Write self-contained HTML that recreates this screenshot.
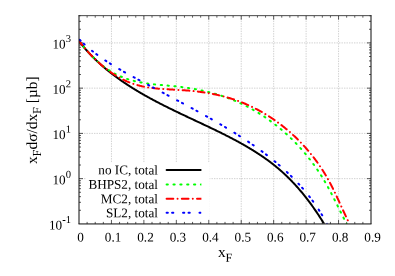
<!DOCTYPE html>
<html><head><meta charset="utf-8"><title>xF distribution</title>
<style>
html,body{margin:0;padding:0;background:#fff;}
body{width:395px;height:276px;overflow:hidden;position:relative;font-family:"Liberation Serif",serif;}
</style></head><body>
<svg width="395" height="276" viewBox="0 0 395 276" style="position:absolute;left:0;top:0;will-change:transform;text-rendering:geometricPrecision">
<g stroke="#a2a2a2" stroke-width="0.5" stroke-dasharray="1.4 1.1" fill="none">
<line x1="111.44" y1="15.65" x2="111.44" y2="223.9"/>
<line x1="143.89" y1="15.65" x2="143.89" y2="223.9"/>
<line x1="176.33" y1="15.65" x2="176.33" y2="223.9"/>
<line x1="208.78" y1="15.65" x2="208.78" y2="223.9"/>
<line x1="241.22" y1="15.65" x2="241.22" y2="223.9"/>
<line x1="273.67" y1="15.65" x2="273.67" y2="223.9"/>
<line x1="306.11" y1="15.65" x2="306.11" y2="223.9"/>
<line x1="338.56" y1="15.65" x2="338.56" y2="223.9"/>
<line x1="79.0" y1="178.65" x2="371.0" y2="178.65"/>
<line x1="79.0" y1="133.40" x2="371.0" y2="133.40"/>
<line x1="79.0" y1="88.15" x2="371.0" y2="88.15"/>
<line x1="79.0" y1="42.90" x2="371.0" y2="42.90"/>
</g>
<rect x="86" y="162.9" width="123.6" height="60.6" fill="#fff"/>
<g stroke="#000" stroke-width="0.65" fill="none">
<line x1="87.11" y1="223.9" x2="87.11" y2="221.9"/>
<line x1="87.11" y1="15.65" x2="87.11" y2="17.65"/>
<line x1="95.22" y1="223.9" x2="95.22" y2="221.9"/>
<line x1="95.22" y1="15.65" x2="95.22" y2="17.65"/>
<line x1="103.33" y1="223.9" x2="103.33" y2="221.9"/>
<line x1="103.33" y1="15.65" x2="103.33" y2="17.65"/>
<line x1="111.44" y1="223.9" x2="111.44" y2="219.9"/>
<line x1="111.44" y1="15.65" x2="111.44" y2="19.65"/>
<line x1="119.56" y1="223.9" x2="119.56" y2="221.9"/>
<line x1="119.56" y1="15.65" x2="119.56" y2="17.65"/>
<line x1="127.67" y1="223.9" x2="127.67" y2="221.9"/>
<line x1="127.67" y1="15.65" x2="127.67" y2="17.65"/>
<line x1="135.78" y1="223.9" x2="135.78" y2="221.9"/>
<line x1="135.78" y1="15.65" x2="135.78" y2="17.65"/>
<line x1="143.89" y1="223.9" x2="143.89" y2="219.9"/>
<line x1="143.89" y1="15.65" x2="143.89" y2="19.65"/>
<line x1="152.00" y1="223.9" x2="152.00" y2="221.9"/>
<line x1="152.00" y1="15.65" x2="152.00" y2="17.65"/>
<line x1="160.11" y1="223.9" x2="160.11" y2="221.9"/>
<line x1="160.11" y1="15.65" x2="160.11" y2="17.65"/>
<line x1="168.22" y1="223.9" x2="168.22" y2="221.9"/>
<line x1="168.22" y1="15.65" x2="168.22" y2="17.65"/>
<line x1="176.33" y1="223.9" x2="176.33" y2="219.9"/>
<line x1="176.33" y1="15.65" x2="176.33" y2="19.65"/>
<line x1="184.44" y1="223.9" x2="184.44" y2="221.9"/>
<line x1="184.44" y1="15.65" x2="184.44" y2="17.65"/>
<line x1="192.56" y1="223.9" x2="192.56" y2="221.9"/>
<line x1="192.56" y1="15.65" x2="192.56" y2="17.65"/>
<line x1="200.67" y1="223.9" x2="200.67" y2="221.9"/>
<line x1="200.67" y1="15.65" x2="200.67" y2="17.65"/>
<line x1="208.78" y1="223.9" x2="208.78" y2="219.9"/>
<line x1="208.78" y1="15.65" x2="208.78" y2="19.65"/>
<line x1="216.89" y1="223.9" x2="216.89" y2="221.9"/>
<line x1="216.89" y1="15.65" x2="216.89" y2="17.65"/>
<line x1="225.00" y1="223.9" x2="225.00" y2="221.9"/>
<line x1="225.00" y1="15.65" x2="225.00" y2="17.65"/>
<line x1="233.11" y1="223.9" x2="233.11" y2="221.9"/>
<line x1="233.11" y1="15.65" x2="233.11" y2="17.65"/>
<line x1="241.22" y1="223.9" x2="241.22" y2="219.9"/>
<line x1="241.22" y1="15.65" x2="241.22" y2="19.65"/>
<line x1="249.33" y1="223.9" x2="249.33" y2="221.9"/>
<line x1="249.33" y1="15.65" x2="249.33" y2="17.65"/>
<line x1="257.44" y1="223.9" x2="257.44" y2="221.9"/>
<line x1="257.44" y1="15.65" x2="257.44" y2="17.65"/>
<line x1="265.56" y1="223.9" x2="265.56" y2="221.9"/>
<line x1="265.56" y1="15.65" x2="265.56" y2="17.65"/>
<line x1="273.67" y1="223.9" x2="273.67" y2="219.9"/>
<line x1="273.67" y1="15.65" x2="273.67" y2="19.65"/>
<line x1="281.78" y1="223.9" x2="281.78" y2="221.9"/>
<line x1="281.78" y1="15.65" x2="281.78" y2="17.65"/>
<line x1="289.89" y1="223.9" x2="289.89" y2="221.9"/>
<line x1="289.89" y1="15.65" x2="289.89" y2="17.65"/>
<line x1="298.00" y1="223.9" x2="298.00" y2="221.9"/>
<line x1="298.00" y1="15.65" x2="298.00" y2="17.65"/>
<line x1="306.11" y1="223.9" x2="306.11" y2="219.9"/>
<line x1="306.11" y1="15.65" x2="306.11" y2="19.65"/>
<line x1="314.22" y1="223.9" x2="314.22" y2="221.9"/>
<line x1="314.22" y1="15.65" x2="314.22" y2="17.65"/>
<line x1="322.33" y1="223.9" x2="322.33" y2="221.9"/>
<line x1="322.33" y1="15.65" x2="322.33" y2="17.65"/>
<line x1="330.44" y1="223.9" x2="330.44" y2="221.9"/>
<line x1="330.44" y1="15.65" x2="330.44" y2="17.65"/>
<line x1="338.56" y1="223.9" x2="338.56" y2="219.9"/>
<line x1="338.56" y1="15.65" x2="338.56" y2="19.65"/>
<line x1="346.67" y1="223.9" x2="346.67" y2="221.9"/>
<line x1="346.67" y1="15.65" x2="346.67" y2="17.65"/>
<line x1="354.78" y1="223.9" x2="354.78" y2="221.9"/>
<line x1="354.78" y1="15.65" x2="354.78" y2="17.65"/>
<line x1="362.89" y1="223.9" x2="362.89" y2="221.9"/>
<line x1="362.89" y1="15.65" x2="362.89" y2="17.65"/>
<line x1="79.0" y1="210.28" x2="81.0" y2="210.28"/>
<line x1="371.0" y1="210.28" x2="369.0" y2="210.28"/>
<line x1="79.0" y1="202.31" x2="81.0" y2="202.31"/>
<line x1="371.0" y1="202.31" x2="369.0" y2="202.31"/>
<line x1="79.0" y1="196.66" x2="81.0" y2="196.66"/>
<line x1="371.0" y1="196.66" x2="369.0" y2="196.66"/>
<line x1="79.0" y1="192.27" x2="81.0" y2="192.27"/>
<line x1="371.0" y1="192.27" x2="369.0" y2="192.27"/>
<line x1="79.0" y1="188.69" x2="81.0" y2="188.69"/>
<line x1="371.0" y1="188.69" x2="369.0" y2="188.69"/>
<line x1="79.0" y1="185.66" x2="81.0" y2="185.66"/>
<line x1="371.0" y1="185.66" x2="369.0" y2="185.66"/>
<line x1="79.0" y1="183.04" x2="81.0" y2="183.04"/>
<line x1="371.0" y1="183.04" x2="369.0" y2="183.04"/>
<line x1="79.0" y1="180.72" x2="81.0" y2="180.72"/>
<line x1="371.0" y1="180.72" x2="369.0" y2="180.72"/>
<line x1="79.0" y1="178.65" x2="83.0" y2="178.65"/>
<line x1="371.0" y1="178.65" x2="367.0" y2="178.65"/>
<line x1="79.0" y1="165.03" x2="81.0" y2="165.03"/>
<line x1="371.0" y1="165.03" x2="369.0" y2="165.03"/>
<line x1="79.0" y1="157.06" x2="81.0" y2="157.06"/>
<line x1="371.0" y1="157.06" x2="369.0" y2="157.06"/>
<line x1="79.0" y1="151.41" x2="81.0" y2="151.41"/>
<line x1="371.0" y1="151.41" x2="369.0" y2="151.41"/>
<line x1="79.0" y1="147.02" x2="81.0" y2="147.02"/>
<line x1="371.0" y1="147.02" x2="369.0" y2="147.02"/>
<line x1="79.0" y1="143.44" x2="81.0" y2="143.44"/>
<line x1="371.0" y1="143.44" x2="369.0" y2="143.44"/>
<line x1="79.0" y1="140.41" x2="81.0" y2="140.41"/>
<line x1="371.0" y1="140.41" x2="369.0" y2="140.41"/>
<line x1="79.0" y1="137.79" x2="81.0" y2="137.79"/>
<line x1="371.0" y1="137.79" x2="369.0" y2="137.79"/>
<line x1="79.0" y1="135.47" x2="81.0" y2="135.47"/>
<line x1="371.0" y1="135.47" x2="369.0" y2="135.47"/>
<line x1="79.0" y1="133.40" x2="83.0" y2="133.40"/>
<line x1="371.0" y1="133.40" x2="367.0" y2="133.40"/>
<line x1="79.0" y1="119.78" x2="81.0" y2="119.78"/>
<line x1="371.0" y1="119.78" x2="369.0" y2="119.78"/>
<line x1="79.0" y1="111.81" x2="81.0" y2="111.81"/>
<line x1="371.0" y1="111.81" x2="369.0" y2="111.81"/>
<line x1="79.0" y1="106.16" x2="81.0" y2="106.16"/>
<line x1="371.0" y1="106.16" x2="369.0" y2="106.16"/>
<line x1="79.0" y1="101.77" x2="81.0" y2="101.77"/>
<line x1="371.0" y1="101.77" x2="369.0" y2="101.77"/>
<line x1="79.0" y1="98.19" x2="81.0" y2="98.19"/>
<line x1="371.0" y1="98.19" x2="369.0" y2="98.19"/>
<line x1="79.0" y1="95.16" x2="81.0" y2="95.16"/>
<line x1="371.0" y1="95.16" x2="369.0" y2="95.16"/>
<line x1="79.0" y1="92.54" x2="81.0" y2="92.54"/>
<line x1="371.0" y1="92.54" x2="369.0" y2="92.54"/>
<line x1="79.0" y1="90.22" x2="81.0" y2="90.22"/>
<line x1="371.0" y1="90.22" x2="369.0" y2="90.22"/>
<line x1="79.0" y1="88.15" x2="83.0" y2="88.15"/>
<line x1="371.0" y1="88.15" x2="367.0" y2="88.15"/>
<line x1="79.0" y1="74.53" x2="81.0" y2="74.53"/>
<line x1="371.0" y1="74.53" x2="369.0" y2="74.53"/>
<line x1="79.0" y1="66.56" x2="81.0" y2="66.56"/>
<line x1="371.0" y1="66.56" x2="369.0" y2="66.56"/>
<line x1="79.0" y1="60.91" x2="81.0" y2="60.91"/>
<line x1="371.0" y1="60.91" x2="369.0" y2="60.91"/>
<line x1="79.0" y1="56.52" x2="81.0" y2="56.52"/>
<line x1="371.0" y1="56.52" x2="369.0" y2="56.52"/>
<line x1="79.0" y1="52.94" x2="81.0" y2="52.94"/>
<line x1="371.0" y1="52.94" x2="369.0" y2="52.94"/>
<line x1="79.0" y1="49.91" x2="81.0" y2="49.91"/>
<line x1="371.0" y1="49.91" x2="369.0" y2="49.91"/>
<line x1="79.0" y1="47.29" x2="81.0" y2="47.29"/>
<line x1="371.0" y1="47.29" x2="369.0" y2="47.29"/>
<line x1="79.0" y1="44.97" x2="81.0" y2="44.97"/>
<line x1="371.0" y1="44.97" x2="369.0" y2="44.97"/>
<line x1="79.0" y1="42.90" x2="83.0" y2="42.90"/>
<line x1="371.0" y1="42.90" x2="367.0" y2="42.90"/>
<line x1="79.0" y1="29.28" x2="81.0" y2="29.28"/>
<line x1="371.0" y1="29.28" x2="369.0" y2="29.28"/>
<line x1="79.0" y1="21.31" x2="81.0" y2="21.31"/>
<line x1="371.0" y1="21.31" x2="369.0" y2="21.31"/>
<line x1="79.0" y1="15.66" x2="81.0" y2="15.66"/>
<line x1="371.0" y1="15.66" x2="369.0" y2="15.66"/>
</g>
<g fill="none" stroke-width="2" stroke-linejoin="round" stroke-linecap="round">
<clipPath id="pc"><rect x="79.0" y="15.65" width="292.0" height="207.95"/></clipPath><g clip-path="url(#pc)">
<path d="M79.00,41.04 L79.38,41.54 L79.76,42.04 L80.14,42.54 L80.53,43.04 L80.92,43.53 L81.31,44.03 L81.70,44.52 L82.09,45.01 L82.49,45.50 L82.88,45.98 L83.28,46.47 L83.68,46.95 L84.09,47.43 L84.49,47.91 L84.90,48.39 L85.31,48.86 L85.72,49.34 L86.13,49.81 L86.54,50.28 L86.96,50.75 L87.38,51.22 L87.80,51.68 L88.22,52.15 L88.64,52.61 L89.07,53.07 L89.49,53.53 L89.92,53.98 L90.35,54.44 L90.79,54.89 L91.22,55.34 L91.66,55.80 L92.09,56.24 L92.53,56.69 L92.97,57.14 L93.41,57.58 L93.86,58.02 L94.30,58.46 L94.75,58.90 L95.20,59.34 L95.65,59.77 L96.10,60.21 L96.55,60.64 L97.01,61.07 L97.47,61.50 L97.92,61.93 L98.38,62.36 L98.84,62.78 L99.31,63.20 L99.77,63.62 L100.23,64.04 L100.70,64.46 L101.17,64.88 L101.64,65.30 L102.11,65.71 L102.58,66.12 L103.05,66.53 L103.53,66.94 L104.00,67.35 L104.48,67.75 L104.96,68.16 L105.44,68.56 L105.92,68.96 L106.40,69.36 L106.89,69.76 L107.37,70.16 L107.86,70.56 L108.35,70.95 L108.83,71.34 L109.32,71.73 L109.81,72.12 L110.31,72.51 L110.80,72.90 L111.29,73.28 L111.79,73.67 L112.29,74.05 L112.78,74.43 L113.28,74.81 L113.78,75.19 L114.28,75.57 L114.78,75.94 L115.29,76.32 L115.79,76.69 L116.29,77.06 L116.80,77.43 L117.31,77.80 L117.81,78.17 L118.32,78.54 L118.83,78.90 L119.34,79.26 L119.85,79.63 L120.37,79.99 L120.88,80.35 L121.39,80.70 L121.91,81.06 L122.42,81.42 L122.94,81.77 L123.46,82.12 L123.97,82.47 L124.49,82.82 L125.01,83.17 L125.53,83.52 L126.05,83.87 L126.57,84.21 L127.09,84.55 L127.62,84.90 L128.14,85.24 L128.67,85.58 L129.19,85.92 L129.72,86.26 L130.24,86.59 L130.77,86.93 L131.30,87.26 L131.83,87.59 L132.35,87.93 L132.88,88.26 L133.41,88.59 L133.95,88.91 L134.48,89.24 L135.01,89.57 L135.54,89.89 L136.08,90.22 L136.61,90.54 L137.15,90.86 L137.68,91.18 L138.22,91.50 L138.75,91.82 L139.29,92.14 L139.83,92.46 L140.37,92.77 L140.91,93.09 L141.45,93.40 L141.99,93.71 L142.53,94.02 L143.07,94.34 L143.61,94.65 L144.15,94.95 L144.69,95.26 L145.24,95.57 L145.78,95.88 L146.33,96.18 L146.87,96.49 L147.42,96.79 L147.96,97.09 L148.51,97.39 L149.06,97.70 L149.60,98.00 L150.15,98.30 L150.70,98.59 L151.25,98.89 L151.80,99.19 L152.35,99.49 L152.90,99.78 L153.45,100.08 L154.00,100.37 L154.55,100.66 L155.11,100.96 L155.66,101.25 L156.21,101.54 L156.77,101.83 L157.32,102.12 L157.87,102.41 L158.43,102.70 L158.98,102.99 L159.54,103.27 L160.10,103.56 L160.65,103.84 L161.21,104.13 L161.77,104.41 L162.32,104.70 L162.88,104.98 L163.44,105.27 L164.00,105.55 L164.56,105.83 L165.12,106.11 L165.68,106.39 L166.24,106.67 L166.80,106.95 L167.36,107.23 L167.92,107.51 L168.48,107.79 L169.04,108.07 L169.60,108.34 L170.17,108.62 L170.73,108.90 L171.29,109.17 L171.86,109.45 L172.42,109.73 L172.98,110.00 L173.55,110.27 L174.11,110.55 L174.67,110.82 L175.24,111.10 L175.80,111.37 L176.37,111.64 L176.93,111.91 L177.50,112.19 L178.07,112.46 L178.63,112.73 L179.20,113.00 L179.77,113.27 L180.33,113.54 L180.90,113.81 L181.47,114.08 L182.03,114.35 L182.60,114.62 L183.17,114.89 L183.74,115.16 L184.30,115.43 L184.87,115.70 L185.44,115.97 L186.01,116.24 L186.58,116.51 L187.15,116.77 L187.72,117.04 L188.28,117.31 L188.85,117.58 L189.42,117.85 L189.99,118.11 L190.56,118.38 L191.13,118.65 L191.70,118.92 L192.27,119.18 L192.84,119.45 L193.41,119.72 L193.98,119.99 L194.55,120.25 L195.12,120.52 L195.69,120.79 L196.26,121.06 L196.83,121.32 L197.40,121.59 L197.97,121.86 L198.54,122.13 L199.11,122.39 L199.68,122.66 L200.25,122.93 L200.82,123.20 L201.39,123.47 L201.96,123.73 L202.54,124.00 L203.11,124.27 L203.68,124.54 L204.25,124.81 L204.82,125.08 L205.39,125.35 L205.96,125.62 L206.53,125.89 L207.10,126.16 L207.67,126.43 L208.24,126.70 L208.81,126.97 L209.38,127.24 L209.94,127.51 L210.51,127.78 L211.08,128.05 L211.65,128.33 L212.22,128.60 L212.79,128.87 L213.36,129.14 L213.93,129.42 L214.49,129.69 L215.06,129.97 L215.63,130.24 L216.20,130.52 L216.76,130.79 L217.33,131.07 L217.90,131.34 L218.46,131.62 L219.03,131.90 L219.59,132.18 L220.16,132.45 L220.72,132.73 L221.29,133.01 L221.85,133.29 L222.42,133.57 L222.98,133.85 L223.54,134.13 L224.11,134.42 L224.67,134.70 L225.23,134.98 L225.79,135.27 L226.35,135.55 L226.92,135.84 L227.48,136.12 L228.04,136.41 L228.60,136.69 L229.15,136.98 L229.71,137.27 L230.27,137.56 L230.83,137.85 L231.39,138.14 L231.94,138.43 L232.50,138.72 L233.06,139.02 L233.61,139.31 L234.17,139.60 L234.72,139.90 L235.27,140.19 L235.83,140.49 L236.38,140.79 L236.93,141.09 L237.48,141.38 L238.03,141.68 L238.58,141.99 L239.13,142.29 L239.68,142.59 L240.23,142.89 L240.78,143.20 L241.32,143.50 L241.87,143.81 L242.42,144.12 L242.96,144.42 L243.51,144.73 L244.05,145.04 L244.59,145.35 L245.13,145.66 L245.68,145.98 L246.22,146.29 L246.76,146.61 L247.29,146.92 L247.83,147.24 L248.37,147.56 L248.91,147.88 L249.44,148.20 L249.98,148.52 L250.51,148.84 L251.05,149.16 L251.58,149.49 L252.11,149.81 L252.64,150.14 L253.17,150.47 L253.70,150.80 L254.23,151.13 L254.76,151.46 L255.29,151.79 L255.81,152.13 L256.34,152.46 L256.86,152.80 L257.38,153.14 L257.91,153.48 L258.43,153.82 L258.95,154.16 L259.47,154.50 L259.98,154.85 L260.50,155.19 L261.02,155.54 L261.53,155.89 L262.05,156.24 L262.56,156.59 L263.07,156.94 L263.58,157.29 L264.09,157.65 L264.60,158.01 L265.11,158.36 L265.62,158.72 L266.12,159.08 L266.63,159.45 L267.13,159.81 L267.64,160.18 L268.14,160.54 L268.64,160.91 L269.14,161.28 L269.63,161.65 L270.13,162.03 L270.63,162.40 L271.12,162.78 L271.62,163.15 L272.11,163.53 L272.60,163.91 L273.09,164.30 L273.58,164.68 L274.06,165.06 L274.55,165.45 L275.03,165.84 L275.52,166.23 L276.00,166.62 L276.48,167.02 L276.96,167.41 L277.44,167.81 L277.92,168.21 L278.39,168.61 L278.87,169.01 L279.34,169.42 L279.81,169.82 L280.28,170.23 L280.75,170.64 L281.22,171.05 L281.69,171.46 L282.15,171.88 L282.61,172.30 L283.08,172.71 L283.54,173.13 L284.00,173.56 L284.45,173.98 L284.91,174.41 L285.37,174.83 L285.82,175.26 L286.27,175.69 L286.72,176.13 L287.17,176.56 L287.62,177.00 L288.07,177.43 L288.51,177.87 L288.96,178.31 L289.40,178.76 L289.84,179.20 L290.28,179.64 L290.72,180.09 L291.16,180.54 L291.60,180.99 L292.03,181.44 L292.46,181.90 L292.90,182.35 L293.33,182.81 L293.76,183.27 L294.18,183.72 L294.61,184.19 L295.04,184.65 L295.46,185.11 L295.88,185.58 L296.30,186.04 L296.72,186.51 L297.14,186.98 L297.56,187.45 L297.97,187.92 L298.39,188.40 L298.80,188.87 L299.21,189.35 L299.63,189.82 L300.04,190.30 L300.44,190.78 L300.85,191.26 L301.26,191.75 L301.66,192.23 L302.06,192.72 L302.46,193.20 L302.86,193.69 L303.26,194.18 L303.66,194.67 L304.06,195.16 L304.45,195.65 L304.85,196.14 L305.24,196.64 L305.63,197.13 L306.02,197.63 L306.41,198.13 L306.80,198.62 L307.18,199.12 L307.57,199.62 L307.95,200.13 L308.33,200.63 L308.71,201.13 L309.09,201.64 L309.47,202.14 L309.85,202.65 L310.22,203.15 L310.60,203.66 L310.97,204.17 L311.34,204.68 L311.72,205.19 L312.09,205.71 L312.45,206.22 L312.82,206.73 L313.19,207.25 L313.55,207.76 L313.91,208.28 L314.28,208.79 L314.64,209.31 L315.00,209.83 L315.36,210.35 L315.71,210.87 L316.07,211.39 L316.42,211.91 L316.78,212.43 L317.13,212.96 L317.48,213.48 L317.83,214.00 L318.18,214.53 L318.53,215.05 L318.87,215.58 L319.22,216.11 L319.56,216.63 L319.90,217.16 L320.25,217.69 L320.59,218.22 L320.93,218.75 L321.26,219.28 L321.60,219.81 L321.94,220.34 L322.27,220.87 L322.60,221.40 L322.93,221.93 L323.27,222.47 L323.59,223.00 L323.92,223.53 L324.15,223.90" stroke="#000"/>
<path d="M79.04,40.97 L79.46,41.52 L79.88,42.08 L80.30,42.63 L80.72,43.17 L81.15,43.72 L81.58,44.27 L82.01,44.81 L82.45,45.36 L82.89,45.90 L83.33,46.44 L83.77,46.98 L84.22,47.52 L84.66,48.06 L85.11,48.59 L85.57,49.12 L86.02,49.65 L86.48,50.18 L86.94,50.71 L87.41,51.23 L87.87,51.75 L88.34,52.27 L88.81,52.79 L89.29,53.31 L89.76,53.82 L90.24,54.33 L90.72,54.84 L91.21,55.34 L91.69,55.84 L92.18,56.34 L92.67,56.84 L93.17,57.33 L93.67,57.82 L94.17,58.31 L94.67,58.79 L95.17,59.27 L95.68,59.75 L96.19,60.22 L96.71,60.70 L97.22,61.16 L97.74,61.63 L98.26,62.08 L98.78,62.54 L99.31,62.99 L99.84,63.44 L100.37,63.88 L100.90,64.32 L101.44,64.76 L101.98,65.19 L102.52,65.62 L103.07,66.04 L103.61,66.46 L104.16,66.88 L104.71,67.29 L105.27,67.69 L105.83,68.09 L106.39,68.49 L106.95,68.88 L107.52,69.26 L108.08,69.64 L108.65,70.02 L109.23,70.39 L109.80,70.76 L110.38,71.12 L110.96,71.47 L111.55,71.82 L112.13,72.17 L112.72,72.51 L113.31,72.84 L113.91,73.17 L114.51,73.49 L115.11,73.81 L115.71,74.12 L116.31,74.43 L116.92,74.73 L117.53,75.03 L118.14,75.32 L118.75,75.60 L119.37,75.89 L119.99,76.16 L120.61,76.43 L121.23,76.70 L121.85,76.96 L122.48,77.22 L123.11,77.47 L123.74,77.71 L124.37,77.95 L125.01,78.19 L125.64,78.42 L126.28,78.65 L126.92,78.87 L127.57,79.09 L128.21,79.30 L128.86,79.51 L129.50,79.71 L130.15,79.91 L130.80,80.10 L131.46,80.29 L132.11,80.47 L132.77,80.65 L133.43,80.82 L134.09,80.99 L134.75,81.16 L135.41,81.32 L136.07,81.48 L136.74,81.63 L137.41,81.78 L138.08,81.92 L138.75,82.06 L139.42,82.20 L140.09,82.33 L140.76,82.45 L141.44,82.58 L142.11,82.70 L142.79,82.82 L143.47,82.93 L144.15,83.04 L144.83,83.15 L145.51,83.25 L146.19,83.35 L146.88,83.45 L147.56,83.54 L148.25,83.64 L148.93,83.73 L149.62,83.82 L150.31,83.90 L151.00,83.98 L151.69,84.06 L152.38,84.14 L153.07,84.22 L153.76,84.30 L154.45,84.37 L155.14,84.44 L155.84,84.51 L156.53,84.58 L157.22,84.65 L157.92,84.72 L158.62,84.78 L159.31,84.85 L160.01,84.91 L160.70,84.98 L161.40,85.04 L162.10,85.10 L162.80,85.16 L163.49,85.22 L164.19,85.28 L164.89,85.34 L165.59,85.41 L166.29,85.47 L166.98,85.53 L167.68,85.59 L168.38,85.65 L169.08,85.71 L169.78,85.78 L170.48,85.84 L171.17,85.91 L171.87,85.97 L172.57,86.04 L173.27,86.11 L173.96,86.17 L174.66,86.24 L175.36,86.32 L176.05,86.39 L176.75,86.47 L177.45,86.54 L178.14,86.62 L178.84,86.70 L179.53,86.78 L180.22,86.87 L180.92,86.95 L181.61,87.04 L182.30,87.13 L183.00,87.22 L183.69,87.31 L184.38,87.41 L185.07,87.50 L185.76,87.60 L186.45,87.70 L187.14,87.81 L187.83,87.91 L188.52,88.02 L189.21,88.12 L189.89,88.23 L190.58,88.35 L191.27,88.46 L191.95,88.58 L192.64,88.69 L193.32,88.81 L194.01,88.93 L194.69,89.06 L195.37,89.18 L196.06,89.31 L196.74,89.44 L197.42,89.57 L198.10,89.71 L198.78,89.84 L199.46,89.98 L200.14,90.12 L200.82,90.26 L201.49,90.41 L202.17,90.55 L202.85,90.70 L203.52,90.85 L204.20,91.01 L204.87,91.16 L205.55,91.32 L206.22,91.48 L206.89,91.64 L207.56,91.80 L208.23,91.97 L208.90,92.14 L209.57,92.31 L210.24,92.48 L210.91,92.66 L211.57,92.83 L212.24,93.01 L212.90,93.19 L213.57,93.38 L214.23,93.57 L214.89,93.75 L215.56,93.95 L216.22,94.14 L216.88,94.34 L217.54,94.53 L218.20,94.73 L218.85,94.94 L219.51,95.14 L220.17,95.35 L220.82,95.56 L221.48,95.77 L222.13,95.99 L222.78,96.21 L223.43,96.43 L224.09,96.65 L224.74,96.87 L225.38,97.10 L226.03,97.33 L226.68,97.56 L227.33,97.80 L227.97,98.04 L228.61,98.28 L229.26,98.52 L229.90,98.77 L230.54,99.01 L231.18,99.26 L231.82,99.52 L232.46,99.77 L233.10,100.03 L233.73,100.29 L234.37,100.56 L235.00,100.82 L235.63,101.09 L236.27,101.36 L236.90,101.64 L237.53,101.92 L238.16,102.19 L238.78,102.48 L239.41,102.76 L240.03,103.05 L240.66,103.34 L241.28,103.63 L241.90,103.93 L242.53,104.22 L243.15,104.52 L243.76,104.83 L244.38,105.13 L245.00,105.44 L245.61,105.75 L246.23,106.06 L246.84,106.38 L247.45,106.70 L248.06,107.02 L248.67,107.34 L249.28,107.67 L249.89,107.99 L250.49,108.32 L251.10,108.66 L251.70,108.99 L252.30,109.33 L252.90,109.67 L253.50,110.01 L254.10,110.35 L254.70,110.70 L255.30,111.05 L255.89,111.40 L256.48,111.76 L257.08,112.11 L257.67,112.47 L258.26,112.83 L258.85,113.19 L259.43,113.56 L260.02,113.93 L260.60,114.30 L261.19,114.67 L261.77,115.05 L262.35,115.42 L262.93,115.80 L263.50,116.18 L264.08,116.57 L264.66,116.95 L265.23,117.34 L265.80,117.73 L266.37,118.12 L266.94,118.52 L267.51,118.91 L268.08,119.31 L268.64,119.71 L269.21,120.12 L269.77,120.52 L270.33,120.93 L270.89,121.34 L271.45,121.75 L272.00,122.17 L272.56,122.58 L273.11,123.00 L273.67,123.42 L274.22,123.84 L274.77,124.27 L275.31,124.69 L275.86,125.12 L276.41,125.55 L276.95,125.98 L277.49,126.42 L278.03,126.86 L278.57,127.29 L279.11,127.73 L279.64,128.18 L280.18,128.62 L280.71,129.07 L281.24,129.52 L281.77,129.97 L282.30,130.42 L282.83,130.87 L283.35,131.33 L283.88,131.79 L284.40,132.25 L284.92,132.71 L285.44,133.17 L285.95,133.64 L286.47,134.10 L286.98,134.57 L287.49,135.04 L288.00,135.52 L288.51,135.99 L289.02,136.47 L289.53,136.94 L290.03,137.42 L290.53,137.91 L291.03,138.39 L291.53,138.87 L292.03,139.36 L292.52,139.85 L293.02,140.34 L293.51,140.83 L294.00,141.33 L294.49,141.82 L294.98,142.32 L295.46,142.82 L295.95,143.32 L296.43,143.82 L296.91,144.33 L297.38,144.83 L297.86,145.34 L298.34,145.85 L298.81,146.36 L299.28,146.87 L299.75,147.39 L300.22,147.90 L300.68,148.42 L301.15,148.94 L301.61,149.46 L302.07,149.98 L302.53,150.50 L302.98,151.03 L303.44,151.55 L303.89,152.08 L304.34,152.61 L304.79,153.14 L305.24,153.67 L305.68,154.21 L306.13,154.74 L306.57,155.28 L307.01,155.82 L307.45,156.36 L307.88,156.90 L308.32,157.44 L308.75,157.99 L309.18,158.53 L309.61,159.08 L310.03,159.63 L310.46,160.18 L310.88,160.73 L311.30,161.28 L311.72,161.84 L312.14,162.39 L312.55,162.95 L312.96,163.51 L313.37,164.07 L313.78,164.63 L314.19,165.19 L314.59,165.75 L315.00,166.32 L315.40,166.88 L315.80,167.45 L316.19,168.02 L316.59,168.59 L316.98,169.16 L317.37,169.73 L317.76,170.30 L318.14,170.88 L318.53,171.45 L318.91,172.03 L319.29,172.61 L319.67,173.19 L320.04,173.77 L320.42,174.35 L320.79,174.93 L321.16,175.52 L321.53,176.10 L321.89,176.69 L322.25,177.27 L322.62,177.86 L322.97,178.45 L323.33,179.04 L323.68,179.64 L324.04,180.23 L324.39,180.82 L324.74,181.42 L325.08,182.01 L325.43,182.61 L325.77,183.21 L326.11,183.81 L326.45,184.41 L326.79,185.01 L327.12,185.61 L327.46,186.21 L327.79,186.81 L328.12,187.42 L328.45,188.02 L328.78,188.63 L329.10,189.23 L329.43,189.84 L329.75,190.45 L330.08,191.06 L330.40,191.66 L330.72,192.27 L331.04,192.88 L331.35,193.50 L331.67,194.11 L331.99,194.72 L332.30,195.33 L332.62,195.94 L332.93,196.56 L333.24,197.17 L333.56,197.79 L333.87,198.40 L334.18,199.02 L334.49,199.63 L334.80,200.25 L335.11,200.86 L335.42,201.48 L335.73,202.10 L336.03,202.71 L336.34,203.33 L336.65,203.95 L336.96,204.57 L337.26,205.19 L337.57,205.81 L337.88,206.42 L338.18,207.04 L338.49,207.66 L338.80,208.28 L339.11,208.90 L339.41,209.52 L339.72,210.14 L340.03,210.76 L340.34,211.38 L340.65,211.99 L340.95,212.61 L341.26,213.23 L341.57,213.85 L341.89,214.47 L342.20,215.09 L342.51,215.71 L342.82,216.33 L343.13,216.94 L343.45,217.56 L343.76,218.18 L344.08,218.80 L344.40,219.41 L344.71,220.03 L345.03,220.65 L345.35,221.26 L345.67,221.88 L346.00,222.50 L346.32,223.11 L346.64,223.73 L346.74,223.90" stroke="#00ff00" stroke-dasharray="1.24 5.61" stroke-dashoffset="-0.6"/>
<path d="M79.04,41.01 L79.46,41.56 L79.89,42.11 L80.32,42.66 L80.75,43.21 L81.18,43.76 L81.62,44.31 L82.06,44.85 L82.50,45.40 L82.95,45.94 L83.39,46.48 L83.84,47.02 L84.29,47.56 L84.75,48.10 L85.20,48.64 L85.66,49.17 L86.12,49.71 L86.59,50.24 L87.06,50.77 L87.52,51.30 L88.00,51.82 L88.47,52.35 L88.95,52.87 L89.43,53.39 L89.91,53.91 L90.39,54.43 L90.88,54.94 L91.37,55.45 L91.86,55.96 L92.35,56.47 L92.85,56.98 L93.34,57.48 L93.84,57.98 L94.35,58.48 L94.85,58.97 L95.36,59.47 L95.87,59.96 L96.38,60.45 L96.90,60.93 L97.41,61.42 L97.93,61.90 L98.45,62.37 L98.98,62.85 L99.51,63.32 L100.03,63.79 L100.56,64.25 L101.10,64.72 L101.63,65.18 L102.17,65.63 L102.71,66.09 L103.25,66.53 L103.80,66.98 L104.34,67.42 L104.89,67.86 L105.44,68.30 L106.00,68.73 L106.55,69.16 L107.11,69.59 L107.67,70.01 L108.23,70.43 L108.80,70.84 L109.36,71.25 L109.93,71.66 L110.50,72.06 L111.08,72.46 L111.65,72.86 L112.23,73.25 L112.81,73.64 L113.39,74.02 L113.98,74.40 L114.56,74.77 L115.15,75.14 L115.74,75.51 L116.33,75.87 L116.93,76.23 L117.52,76.58 L118.12,76.93 L118.72,77.27 L119.33,77.61 L119.93,77.94 L120.54,78.27 L121.15,78.60 L121.76,78.92 L122.37,79.23 L122.98,79.54 L123.60,79.85 L124.22,80.15 L124.84,80.45 L125.46,80.74 L126.09,81.02 L126.72,81.30 L127.35,81.58 L127.98,81.84 L128.61,82.11 L129.24,82.37 L129.88,82.62 L130.52,82.87 L131.16,83.11 L131.80,83.35 L132.45,83.58 L133.10,83.80 L133.74,84.02 L134.39,84.24 L135.05,84.44 L135.70,84.65 L136.36,84.84 L137.01,85.03 L137.67,85.22 L138.34,85.40 L139.00,85.57 L139.66,85.74 L140.33,85.90 L141.00,86.06 L141.67,86.21 L142.34,86.36 L143.01,86.50 L143.69,86.64 L144.36,86.77 L145.04,86.90 L145.72,87.03 L146.40,87.15 L147.08,87.26 L147.77,87.37 L148.45,87.48 L149.14,87.59 L149.83,87.69 L150.51,87.78 L151.20,87.88 L151.89,87.97 L152.59,88.05 L153.28,88.13 L153.97,88.22 L154.67,88.29 L155.36,88.37 L156.06,88.44 L156.76,88.51 L157.46,88.57 L158.16,88.64 L158.86,88.70 L159.56,88.76 L160.26,88.81 L160.97,88.87 L161.67,88.92 L162.37,88.97 L163.08,89.02 L163.79,89.07 L164.49,89.12 L165.20,89.16 L165.91,89.21 L166.61,89.25 L167.32,89.29 L168.03,89.33 L168.74,89.37 L169.45,89.41 L170.16,89.45 L170.87,89.49 L171.58,89.53 L172.29,89.57 L173.00,89.61 L173.71,89.64 L174.43,89.68 L175.14,89.72 L175.85,89.76 L176.56,89.80 L177.27,89.84 L177.98,89.88 L178.70,89.92 L179.41,89.96 L180.12,90.00 L180.83,90.04 L181.54,90.09 L182.25,90.13 L182.96,90.18 L183.67,90.23 L184.38,90.28 L185.09,90.33 L185.80,90.39 L186.51,90.44 L187.22,90.50 L187.93,90.56 L188.64,90.62 L189.35,90.68 L190.05,90.75 L190.76,90.81 L191.47,90.88 L192.17,90.95 L192.88,91.02 L193.59,91.10 L194.29,91.17 L195.00,91.25 L195.70,91.33 L196.40,91.41 L197.11,91.50 L197.81,91.58 L198.51,91.67 L199.21,91.76 L199.91,91.85 L200.61,91.95 L201.31,92.04 L202.01,92.14 L202.71,92.24 L203.41,92.35 L204.11,92.45 L204.81,92.56 L205.50,92.67 L206.20,92.78 L206.89,92.89 L207.59,93.01 L208.28,93.13 L208.97,93.25 L209.67,93.37 L210.36,93.50 L211.05,93.63 L211.74,93.76 L212.43,93.89 L213.12,94.03 L213.81,94.16 L214.49,94.30 L215.18,94.45 L215.87,94.59 L216.55,94.74 L217.24,94.89 L217.92,95.04 L218.60,95.20 L219.29,95.36 L219.97,95.52 L220.65,95.68 L221.33,95.85 L222.01,96.02 L222.68,96.19 L223.36,96.36 L224.04,96.54 L224.71,96.72 L225.39,96.90 L226.06,97.09 L226.73,97.28 L227.40,97.47 L228.07,97.66 L228.74,97.86 L229.41,98.06 L230.08,98.26 L230.75,98.47 L231.41,98.67 L232.08,98.89 L232.74,99.10 L233.40,99.32 L234.06,99.54 L234.72,99.76 L235.38,99.99 L236.04,100.22 L236.70,100.45 L237.35,100.69 L238.01,100.92 L238.66,101.17 L239.32,101.41 L239.97,101.66 L240.62,101.91 L241.27,102.16 L241.92,102.42 L242.56,102.68 L243.21,102.94 L243.85,103.21 L244.50,103.47 L245.14,103.75 L245.78,104.02 L246.42,104.30 L247.06,104.58 L247.70,104.86 L248.33,105.14 L248.97,105.43 L249.60,105.72 L250.23,106.02 L250.87,106.31 L251.50,106.61 L252.12,106.92 L252.75,107.22 L253.38,107.53 L254.00,107.84 L254.63,108.15 L255.25,108.47 L255.87,108.79 L256.49,109.11 L257.11,109.44 L257.72,109.76 L258.34,110.09 L258.95,110.42 L259.57,110.76 L260.18,111.10 L260.79,111.44 L261.40,111.78 L262.01,112.13 L262.61,112.48 L263.22,112.83 L263.82,113.18 L264.42,113.54 L265.02,113.90 L265.62,114.26 L266.22,114.62 L266.81,114.99 L267.41,115.36 L268.00,115.73 L268.59,116.10 L269.18,116.48 L269.77,116.86 L270.36,117.24 L270.94,117.62 L271.53,118.01 L272.11,118.40 L272.69,118.79 L273.27,119.18 L273.85,119.58 L274.42,119.98 L275.00,120.38 L275.57,120.78 L276.14,121.19 L276.71,121.60 L277.28,122.01 L277.84,122.42 L278.41,122.84 L278.97,123.26 L279.53,123.68 L280.09,124.10 L280.65,124.52 L281.21,124.95 L281.76,125.38 L282.32,125.81 L282.87,126.25 L283.42,126.68 L283.97,127.12 L284.51,127.56 L285.06,128.00 L285.60,128.45 L286.14,128.90 L286.68,129.35 L287.22,129.80 L287.76,130.25 L288.29,130.71 L288.82,131.17 L289.35,131.63 L289.88,132.09 L290.41,132.56 L290.94,133.02 L291.46,133.49 L291.98,133.96 L292.50,134.44 L293.02,134.91 L293.53,135.39 L294.05,135.87 L294.56,136.35 L295.07,136.83 L295.58,137.32 L296.09,137.81 L296.59,138.30 L297.10,138.79 L297.60,139.28 L298.10,139.78 L298.59,140.28 L299.09,140.78 L299.58,141.28 L300.07,141.78 L300.56,142.29 L301.05,142.79 L301.54,143.30 L302.02,143.81 L302.50,144.33 L302.98,144.84 L303.46,145.36 L303.93,145.88 L304.41,146.40 L304.88,146.92 L305.35,147.45 L305.82,147.97 L306.28,148.50 L306.74,149.03 L307.20,149.56 L307.66,150.09 L308.12,150.63 L308.58,151.17 L309.03,151.71 L309.48,152.25 L309.93,152.79 L310.37,153.33 L310.82,153.88 L311.26,154.43 L311.70,154.97 L312.14,155.52 L312.58,156.08 L313.01,156.63 L313.44,157.19 L313.87,157.74 L314.30,158.30 L314.72,158.86 L315.14,159.43 L315.56,159.99 L315.98,160.56 L316.40,161.12 L316.81,161.69 L317.22,162.26 L317.63,162.83 L318.04,163.41 L318.44,163.98 L318.85,164.56 L319.25,165.14 L319.64,165.72 L320.04,166.30 L320.43,166.88 L320.82,167.46 L321.21,168.05 L321.60,168.64 L321.98,169.22 L322.36,169.81 L322.74,170.41 L323.12,171.00 L323.49,171.59 L323.86,172.19 L324.23,172.78 L324.60,173.38 L324.96,173.98 L325.33,174.58 L325.69,175.19 L326.04,175.79 L326.40,176.39 L326.75,177.00 L327.10,177.61 L327.45,178.22 L327.79,178.83 L328.14,179.44 L328.48,180.05 L328.81,180.66 L329.15,181.28 L329.48,181.90 L329.81,182.51 L330.14,183.13 L330.47,183.75 L330.79,184.37 L331.12,184.99 L331.44,185.62 L331.76,186.24 L332.08,186.86 L332.39,187.49 L332.71,188.12 L333.02,188.74 L333.33,189.37 L333.64,190.00 L333.95,190.63 L334.25,191.26 L334.56,191.89 L334.86,192.52 L335.16,193.15 L335.47,193.79 L335.77,194.42 L336.07,195.05 L336.36,195.69 L336.66,196.32 L336.96,196.96 L337.25,197.59 L337.55,198.23 L337.84,198.86 L338.14,199.50 L338.43,200.14 L338.72,200.77 L339.02,201.41 L339.31,202.05 L339.60,202.69 L339.89,203.32 L340.18,203.96 L340.47,204.60 L340.76,205.24 L341.05,205.87 L341.35,206.51 L341.64,207.15 L341.93,207.79 L342.22,208.43 L342.51,209.06 L342.80,209.70 L343.09,210.34 L343.38,210.97 L343.68,211.61 L343.97,212.25 L344.26,212.88 L344.56,213.52 L344.85,214.15 L345.15,214.79 L345.45,215.42 L345.74,216.06 L346.04,216.69 L346.34,217.32 L346.64,217.96 L346.94,218.59 L347.25,219.22 L347.55,219.85 L347.86,220.48 L348.16,221.11 L348.47,221.74 L348.78,222.37 L349.09,222.99 L349.40,223.62 L349.54,223.90" stroke="#ff0000" stroke-dasharray="6.72 4.24 0.01 4.24" stroke-dashoffset="1.6"/>
<path d="M79.03,39.10 L79.48,39.56 L79.93,40.01 L80.38,40.46 L80.83,40.91 L81.29,41.35 L81.75,41.80 L82.20,42.24 L82.66,42.67 L83.13,43.11 L83.59,43.54 L84.06,43.97 L84.52,44.40 L84.99,44.83 L85.46,45.25 L85.93,45.68 L86.41,46.10 L86.88,46.51 L87.36,46.93 L87.84,47.34 L88.32,47.75 L88.80,48.16 L89.28,48.57 L89.77,48.97 L90.26,49.37 L90.74,49.77 L91.23,50.17 L91.72,50.57 L92.22,50.96 L92.71,51.36 L93.21,51.75 L93.70,52.13 L94.20,52.52 L94.70,52.91 L95.20,53.29 L95.70,53.67 L96.21,54.05 L96.71,54.42 L97.22,54.80 L97.72,55.17 L98.23,55.55 L98.74,55.92 L99.25,56.28 L99.77,56.65 L100.28,57.02 L100.79,57.38 L101.31,57.74 L101.83,58.10 L102.34,58.46 L102.86,58.82 L103.38,59.17 L103.91,59.53 L104.43,59.88 L104.95,60.23 L105.48,60.58 L106.00,60.93 L106.53,61.27 L107.06,61.62 L107.58,61.96 L108.11,62.31 L108.64,62.65 L109.18,62.99 L109.71,63.33 L110.24,63.66 L110.77,64.00 L111.31,64.33 L111.85,64.67 L112.38,65.00 L112.92,65.33 L113.46,65.66 L114.00,65.99 L114.54,66.32 L115.08,66.64 L115.62,66.97 L116.16,67.29 L116.70,67.62 L117.25,67.94 L117.79,68.26 L118.33,68.58 L118.88,68.90 L119.42,69.22 L119.97,69.54 L120.52,69.85 L121.07,70.17 L121.61,70.49 L122.16,70.80 L122.71,71.11 L123.26,71.43 L123.81,71.74 L124.36,72.05 L124.91,72.36 L125.46,72.67 L126.02,72.98 L126.57,73.29 L127.12,73.59 L127.67,73.90 L128.23,74.21 L128.78,74.51 L129.34,74.82 L129.89,75.12 L130.45,75.43 L131.00,75.73 L131.56,76.04 L132.11,76.34 L132.67,76.64 L133.22,76.94 L133.78,77.24 L134.34,77.55 L134.89,77.85 L135.45,78.15 L136.01,78.45 L136.56,78.75 L137.12,79.05 L137.68,79.35 L138.23,79.65 L138.79,79.94 L139.35,80.24 L139.91,80.54 L140.46,80.84 L141.02,81.14 L141.58,81.44 L142.14,81.73 L142.69,82.03 L143.25,82.33 L143.81,82.63 L144.37,82.92 L144.92,83.22 L145.48,83.52 L146.04,83.82 L146.60,84.11 L147.15,84.41 L147.71,84.71 L148.27,85.00 L148.83,85.30 L149.38,85.59 L149.94,85.89 L150.50,86.19 L151.06,86.48 L151.61,86.78 L152.17,87.07 L152.73,87.37 L153.29,87.67 L153.84,87.96 L154.40,88.26 L154.96,88.55 L155.52,88.85 L156.08,89.14 L156.63,89.44 L157.19,89.73 L157.75,90.03 L158.31,90.32 L158.86,90.62 L159.42,90.91 L159.98,91.21 L160.54,91.50 L161.09,91.80 L161.65,92.09 L162.21,92.39 L162.77,92.68 L163.32,92.98 L163.88,93.27 L164.44,93.57 L165.00,93.86 L165.55,94.16 L166.11,94.46 L166.67,94.75 L167.23,95.05 L167.78,95.34 L168.34,95.64 L168.90,95.93 L169.45,96.23 L170.01,96.52 L170.57,96.82 L171.13,97.11 L171.68,97.41 L172.24,97.71 L172.80,98.00 L173.35,98.30 L173.91,98.59 L174.47,98.89 L175.02,99.19 L175.58,99.48 L176.14,99.78 L176.69,100.08 L177.25,100.37 L177.81,100.67 L178.36,100.97 L178.92,101.27 L179.48,101.56 L180.03,101.86 L180.59,102.16 L181.14,102.46 L181.70,102.75 L182.26,103.05 L182.81,103.35 L183.37,103.65 L183.92,103.95 L184.48,104.25 L185.04,104.55 L185.59,104.85 L186.15,105.15 L186.70,105.45 L187.26,105.75 L187.81,106.05 L188.37,106.35 L188.92,106.65 L189.48,106.95 L190.03,107.25 L190.59,107.55 L191.14,107.85 L191.70,108.15 L192.25,108.46 L192.81,108.76 L193.36,109.06 L193.92,109.36 L194.47,109.67 L195.02,109.97 L195.58,110.27 L196.13,110.58 L196.69,110.88 L197.24,111.19 L197.79,111.49 L198.35,111.80 L198.90,112.10 L199.45,112.41 L200.01,112.71 L200.56,113.02 L201.11,113.33 L201.67,113.63 L202.22,113.94 L202.77,114.25 L203.32,114.56 L203.88,114.86 L204.43,115.17 L204.98,115.48 L205.53,115.79 L206.09,116.10 L206.64,116.41 L207.19,116.72 L207.74,117.03 L208.29,117.35 L208.84,117.66 L209.40,117.97 L209.95,118.28 L210.50,118.59 L211.05,118.91 L211.60,119.22 L212.15,119.54 L212.70,119.85 L213.25,120.17 L213.80,120.48 L214.35,120.80 L214.90,121.11 L215.45,121.43 L216.00,121.75 L216.55,122.07 L217.10,122.38 L217.65,122.70 L218.20,123.02 L218.75,123.34 L219.29,123.66 L219.84,123.98 L220.39,124.30 L220.94,124.62 L221.48,124.95 L222.03,125.27 L222.58,125.59 L223.13,125.92 L223.67,126.24 L224.22,126.56 L224.76,126.89 L225.31,127.22 L225.85,127.54 L226.40,127.87 L226.94,128.20 L227.49,128.52 L228.03,128.85 L228.57,129.18 L229.12,129.51 L229.66,129.84 L230.20,130.17 L230.74,130.50 L231.29,130.84 L231.83,131.17 L232.37,131.50 L232.91,131.83 L233.45,132.17 L233.99,132.50 L234.53,132.84 L235.07,133.18 L235.60,133.51 L236.14,133.85 L236.68,134.19 L237.22,134.53 L237.75,134.87 L238.29,135.21 L238.83,135.55 L239.36,135.89 L239.89,136.23 L240.43,136.58 L240.96,136.92 L241.50,137.26 L242.03,137.61 L242.56,137.95 L243.09,138.30 L243.62,138.65 L244.15,139.00 L244.68,139.34 L245.21,139.69 L245.74,140.04 L246.27,140.39 L246.80,140.75 L247.33,141.10 L247.85,141.45 L248.38,141.80 L248.90,142.16 L249.43,142.51 L249.95,142.87 L250.48,143.23 L251.00,143.58 L251.52,143.94 L252.04,144.30 L252.56,144.66 L253.08,145.02 L253.60,145.38 L254.12,145.75 L254.64,146.11 L255.16,146.47 L255.67,146.84 L256.19,147.21 L256.71,147.57 L257.22,147.94 L257.73,148.31 L258.25,148.68 L258.76,149.05 L259.27,149.42 L259.78,149.79 L260.29,150.16 L260.80,150.53 L261.31,150.91 L261.82,151.28 L262.33,151.66 L262.83,152.04 L263.34,152.42 L263.84,152.79 L264.35,153.17 L264.85,153.55 L265.35,153.94 L265.85,154.32 L266.36,154.70 L266.86,155.09 L267.35,155.47 L267.85,155.86 L268.35,156.25 L268.85,156.63 L269.34,157.02 L269.84,157.41 L270.33,157.80 L270.82,158.20 L271.31,158.59 L271.81,158.98 L272.30,159.38 L272.78,159.78 L273.27,160.17 L273.76,160.57 L274.25,160.97 L274.73,161.37 L275.22,161.77 L275.70,162.17 L276.18,162.58 L276.66,162.98 L277.14,163.39 L277.62,163.79 L278.10,164.20 L278.58,164.61 L279.06,165.02 L279.53,165.43 L280.01,165.84 L280.48,166.25 L280.95,166.67 L281.42,167.08 L281.89,167.50 L282.36,167.92 L282.83,168.33 L283.30,168.75 L283.76,169.17 L284.23,169.60 L284.69,170.02 L285.15,170.44 L285.61,170.87 L286.08,171.29 L286.53,171.72 L286.99,172.15 L287.45,172.58 L287.91,173.01 L288.36,173.44 L288.81,173.88 L289.27,174.31 L289.72,174.75 L290.17,175.18 L290.62,175.62 L291.06,176.06 L291.51,176.50 L291.95,176.94 L292.40,177.38 L292.84,177.83 L293.28,178.27 L293.72,178.72 L294.16,179.17 L294.60,179.62 L295.04,180.07 L295.47,180.52 L295.90,180.97 L296.34,181.42 L296.77,181.88 L297.20,182.34 L297.63,182.79 L298.05,183.25 L298.48,183.71 L298.91,184.17 L299.33,184.64 L299.75,185.10 L300.17,185.57 L300.59,186.03 L301.01,186.50 L301.43,186.97 L301.84,187.44 L302.26,187.91 L302.67,188.39 L303.08,188.86 L303.49,189.34 L303.90,189.82 L304.30,190.30 L304.71,190.78 L305.11,191.26 L305.52,191.74 L305.92,192.22 L306.32,192.71 L306.72,193.20 L307.11,193.69 L307.51,194.18 L307.90,194.67 L308.29,195.16 L308.69,195.65 L309.08,196.15 L309.46,196.65 L309.85,197.14 L310.23,197.64 L310.62,198.15 L311.00,198.65 L311.38,199.15 L311.76,199.66 L312.14,200.17 L312.51,200.67 L312.89,201.18 L313.26,201.70 L313.63,202.21 L314.00,202.72 L314.37,203.24 L314.73,203.76 L315.10,204.28 L315.46,204.80 L315.82,205.32 L316.18,205.84 L316.54,206.37 L316.90,206.89 L317.25,207.42 L317.60,207.95 L317.96,208.48 L318.31,209.01 L318.65,209.55 L319.00,210.08 L319.35,210.62 L319.69,211.16 L320.03,211.70 L320.37,212.24 L320.71,212.79 L321.04,213.33 L321.38,213.88 L321.71,214.43 L322.04,214.98 L322.37,215.53 L322.70,216.08 L323.02,216.64 L323.35,217.19 L323.67,217.75 L323.99,218.31 L324.31,218.87 L324.63,219.43 L324.94,220.00 L325.26,220.57 L325.57,221.13 L325.88,221.70 L326.18,222.27 L326.49,222.85 L326.79,223.42 L327.04,223.90" stroke="#0000ff" stroke-dasharray="1.24 4.24 1.24 9.72" stroke-dashoffset="-1"/>
</g>
<clipPath id="lc"><rect x="160" y="160" width="41.4" height="62"/></clipPath><g clip-path="url(#lc)">
<path d="M166.6,169.9 L202.5,169.9" stroke="#000"/>
<path d="M166.6,184.4 L202.5,184.4" stroke="#00ff00" stroke-dasharray="1.24 5.61"/>
<path d="M166.6,198.8 L202.5,198.8" stroke="#ff0000" stroke-dasharray="6.72 4.24 0.01 4.24"/>
<path d="M166.6,212.8 L202.5,212.8" stroke="#0000ff" stroke-dasharray="1.24 4.24 1.24 9.72"/>
</g></g>
<g fill="none" stroke-width="1" stroke-linecap="square"><line x1="79.0" y1="15.65" x2="371.0" y2="15.65" stroke="#484848"/><line x1="79.0" y1="223.95000000000002" x2="371.0" y2="223.95000000000002" stroke="#0a0a0a"/><line x1="79.0" y1="15.35" x2="79.0" y2="223.9" stroke="#0a0a0a" stroke-linecap="butt"/><line x1="371.0" y1="15.35" x2="371.0" y2="223.9" stroke="#0a0a0a" stroke-linecap="butt"/></g>
<g font-family="'Liberation Serif', serif" fill="#000">
<text x="71" y="229.60" transform="rotate(0.05 71 229.60)" font-size="13.2" text-anchor="end">10<tspan font-size="10.6" dy="-6.6">-1</tspan></text>
<text x="71" y="184.35" transform="rotate(0.05 71 184.35)" font-size="13.2" text-anchor="end">10<tspan font-size="10.6" dy="-6.6">0</tspan></text>
<text x="71" y="139.10" transform="rotate(0.05 71 139.10)" font-size="13.2" text-anchor="end">10<tspan font-size="10.6" dy="-6.6">1</tspan></text>
<text x="71" y="93.85" transform="rotate(0.05 71 93.85)" font-size="13.2" text-anchor="end">10<tspan font-size="10.6" dy="-6.6">2</tspan></text>
<text x="71" y="48.60" transform="rotate(0.05 71 48.60)" font-size="13.2" text-anchor="end">10<tspan font-size="10.6" dy="-6.6">3</tspan></text>
<text x="80.60" y="241.5" transform="rotate(0.05 80.60 241.5)" font-size="13.2" text-anchor="middle">0</text>
<text x="113.04" y="241.5" transform="rotate(0.05 113.04 241.5)" font-size="13.2" text-anchor="middle">0.1</text>
<text x="145.49" y="241.5" transform="rotate(0.05 145.49 241.5)" font-size="13.2" text-anchor="middle">0.2</text>
<text x="177.93" y="241.5" transform="rotate(0.05 177.93 241.5)" font-size="13.2" text-anchor="middle">0.3</text>
<text x="210.38" y="241.5" transform="rotate(0.05 210.38 241.5)" font-size="13.2" text-anchor="middle">0.4</text>
<text x="242.82" y="241.5" transform="rotate(0.05 242.82 241.5)" font-size="13.2" text-anchor="middle">0.5</text>
<text x="275.27" y="241.5" transform="rotate(0.05 275.27 241.5)" font-size="13.2" text-anchor="middle">0.6</text>
<text x="307.71" y="241.5" transform="rotate(0.05 307.71 241.5)" font-size="13.2" text-anchor="middle">0.7</text>
<text x="340.16" y="241.5" transform="rotate(0.05 340.16 241.5)" font-size="13.2" text-anchor="middle">0.8</text>
<text x="372.60" y="241.5" transform="rotate(0.05 372.60 241.5)" font-size="13.2" text-anchor="middle">0.9</text>
<text x="217.9" y="257" transform="rotate(0.05 217.9 257)" font-size="15.4">x<tspan font-size="12.3" dy="4.7">F</tspan></text>
<text transform="translate(37.0,164.1) rotate(-90)" font-size="15.4">x<tspan font-size="12.3" dy="3.8">F</tspan><tspan dy="-3.8">dσ/dx</tspan><tspan font-size="12.3" dy="3.8">F</tspan><tspan dy="-3.8"> [µb]</tspan></text>
<text x="158" y="174.40" transform="rotate(0.05 158 174.40)" font-size="13.2" text-anchor="end">no IC, total</text>
<text x="158" y="188.90" transform="rotate(0.05 158 188.90)" font-size="13.2" text-anchor="end">BHPS2, total</text>
<text x="158" y="203.30" transform="rotate(0.05 158 203.30)" font-size="13.2" text-anchor="end">MC2, total</text>
<text x="158" y="217.30" transform="rotate(0.05 158 217.30)" font-size="13.2" text-anchor="end">SL2, total</text>
</g>
</svg>
</body></html>
